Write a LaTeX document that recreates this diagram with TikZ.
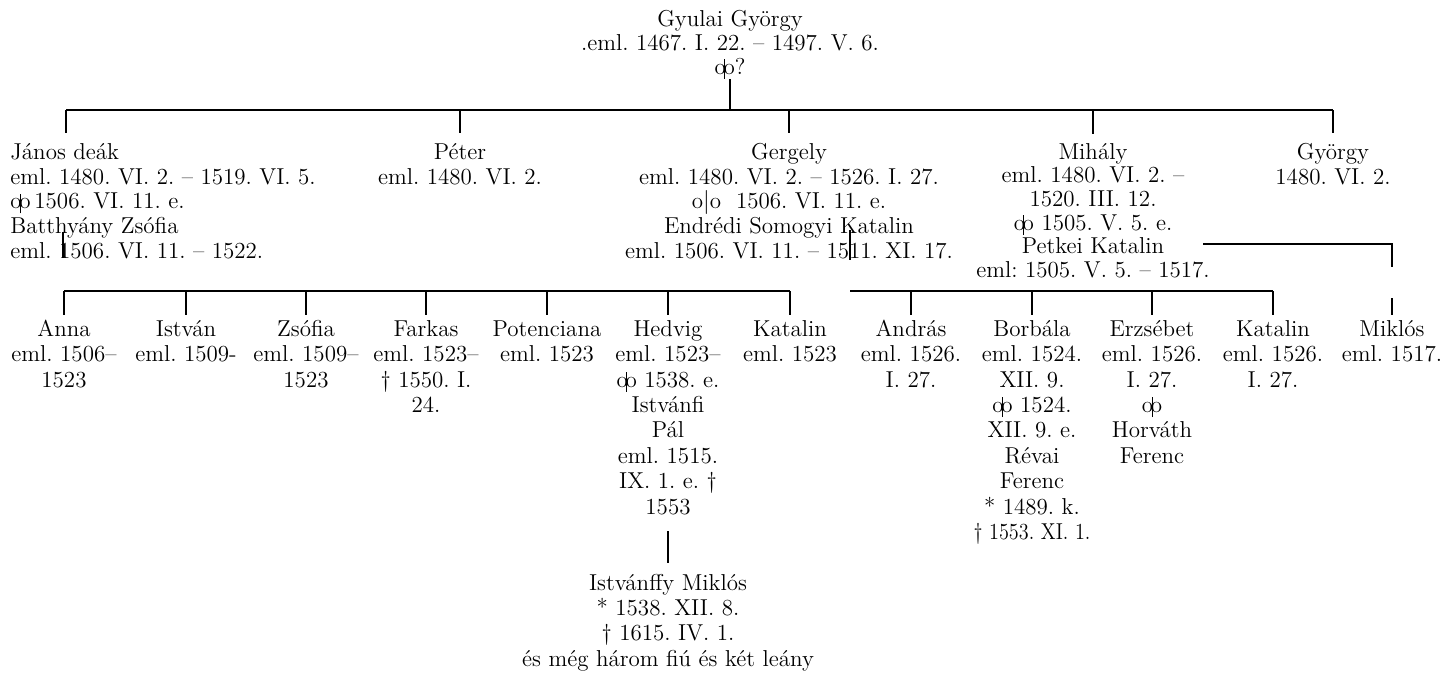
\documentclass[tikz,border=0pt]{standalone}
\usepackage{graphicx}
\frenchspacing
% marriage sign: two rings joined by a stroke
\newcommand{\hzs}{\mbox{o\kern-0.05em\makebox[0pt]{\rule[-0.45ex]{0.5pt}{2ex}}\kern-0.05em o}}
\tikzset{
  person/.style={inner sep=0pt, align=center, anchor=north,
    font=\fontsize{11.5}{12.4}\selectfont\frenchspacing},
  kid/.style={person, font=\fontsize{11.5}{12.7}\selectfont\frenchspacing},
  link/.style={line width=0.6pt},
}
\begin{document}
\begin{tikzpicture}[x=0.5pt,y=-0.5pt]
\fill[white] (0,0) rectangle (1443,675);
\useasboundingbox (0,0) rectangle (1443,675);

% ancestor
\node[person, font=\fontsize{11.5}{12}\selectfont\frenchspacing] (gy) at (730,9)
  {\strut Gyulai György\\ .eml. 1467. I. 22. – 1497. V. 6.\\ \hzs?};

% first generation
\node[person, align=left, anchor=north west] (jan) at (10,141.6)
  {\strut János deák\\ eml. 1480. VI. 2. – 1519. VI. 5.\\ \hzs\,1506. VI. 11. e.\\ Batthyány Zsófia\\ eml. 1506. VI. 11. – 1522.};
\node[person] (pet) at (460,141.6) {\strut Péter\\ eml. 1480. VI. 2.};
\node[person] (ger) at (789,141.6)
  {\strut Gergely\\ eml. 1480. VI. 2. – 1526. I. 27.\\ o$|$o\ \ 1506. VI. 11. e.\\ Endrédi Somogyi Katalin\\ eml. 1506. VI. 11. – 1511. XI. 17.};
\node[person, font=\fontsize{11.5}{11.8}\selectfont\frenchspacing] (mih) at (1093,142.4)
  {\strut Mihály\\ eml. 1480. VI. 2. –\\ 1520. III. 12.\\ \hzs{} 1505. V. 5. e.\\ Petkei Katalin\\ eml: 1505. V. 5. – 1517.};
\node[person] (gyo) at (1333,141.6) {\strut György\\ 1480. VI. 2.};

% second generation
\node[kid] (anna) at (64,318.2) {\strut Anna\\ eml. 1506–\\ 1523};
\node[kid] (ist) at (186,318.2) {\strut István\\ eml. 1509-};
\node[kid] (zso) at (306,318.2) {\strut Zsófia\\ eml. 1509–\\ 1523};
\node[kid] (far) at (426,318.2) {\strut Farkas\\ eml. 1523–\\ † 1550. I.\\ 24.};
\node[kid] (pot) at (547,318.2) {\strut Potenciana\\ eml. 1523};
\node[kid] (hed) at (668,318.2)
  {\strut Hedvig\\ eml. 1523–\\ \hzs{} 1538. e.\\ Istvánfi\\ Pál\\ eml. 1515.\\ IX. 1. e. †\\ 1553};
\node[kid] (kat) at (790,318.2) {\strut Katalin\\ eml. 1523};
\node[kid] (and) at (911,318.2) {\strut András\\ eml. 1526.\\ I. 27.};
\node[kid] (bor) at (1032,318.2)
  {\strut Borbála\\ eml. 1524.\\ XII. 9.\\ \hzs{} 1524.\\ XII. 9. e.\\ Révai\\ Ferenc\\ * 1489. k.\\ \scalebox{0.88}[1]{† 1553. XI. 1.}};
\node[kid] (erz) at (1152,318.2) {\strut Erzsébet\\ eml. 1526.\\ I. 27.\\ \hzs\\ Horváth\\ Ferenc};
\node[kid] (kat2) at (1273,318.2) {\strut Katalin\\ eml. 1526.\\ I. 27.};
\node[kid] (mik) at (1392,318.2) {\strut Miklós\\ eml. 1517.};

% third generation
\node[kid] (imk) at (668,572)
  {\strut Istvánffy Miklós\\ * 1538. XII. 8.\\ † 1615. IV. 1.\\ és még három fiú és két leány};

% level coordinates
\coordinate (bar1) at (0,110);
\coordinate (bar2) at (0,291);
\coordinate (jd) at (66,110);

% ancestor to his sons
\draw[link] (gy.south) -- (gy.south |- bar1);
\draw[link] (jd) -- (gyo.north |- bar1);
\draw[link, shorten >=4.3pt] (jd) -- (jd |- jan.north);
\foreach \n in {pet,ger,mih,gyo}
  \draw[link, shorten >=4.3pt] (\n.north |- bar1) -- (\n.north);

% János' line of descent
\coordinate (jdA) at (63,232);
\coordinate (jdB) at (63,258);
\draw[link] (jdA) -- (jdB);
\draw[link] (anna.north |- bar2) -- (kat.north |- bar2);
\foreach \n in {anna,ist,zso,far,pot,hed,kat}
  \draw[link, shorten >=1.6pt] (\n.north |- bar2) -- (\n.north);

% Gergely's line of descent
\coordinate (gdA) at (850,230);
\coordinate (gdB) at (850,260);
\draw[link] (gdA) -- (gdB);
\draw[link] (gdA |- bar2) -- (kat2.north |- bar2);
\foreach \n in {and,bor,erz,kat2}
  \draw[link, shorten >=1.6pt] (\n.north |- bar2) -- (\n.north);

% Mihály's son
\coordinate (mkA) at (1203,244);
\coordinate (mkB) at (1392,267);
\coordinate (mkC) at (1392,298);
\draw[link] (mkA) -| (mkB);
\draw[link, shorten >=1.6pt] (mkC) -- (mik.north);

% Hedvig's son
\draw[link, shorten <=8.2pt, shorten >=4.5pt] (hed.south) -- (imk.north);
\end{tikzpicture}
\end{document}
